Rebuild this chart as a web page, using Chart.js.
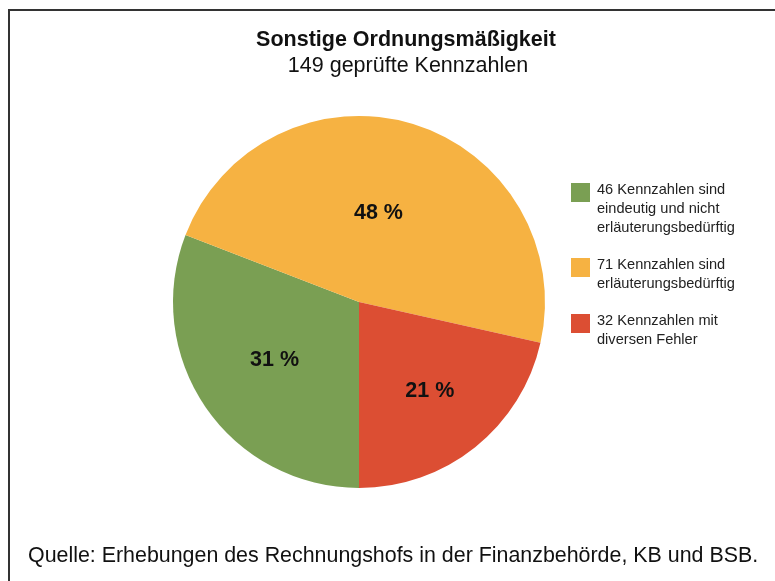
<!DOCTYPE html>
<html>
<head>
<meta charset="utf-8">
<script src="https://cdn.jsdelivr.net/npm/chart.js@4"></script>
<style>
  html, body { margin: 0; padding: 0; background: #fff; }
  #wrap { position: relative; width: 775px; height: 581px; }
</style>
</head>
<body>
<div id="wrap"><canvas id="pieChart" width="775" height="581"></canvas></div>
<script>
// ---------- data ----------
const categories = [
  ["46 Kennzahlen sind", "eindeutig und nicht", "erläuterungsbedürftig"],
  ["71 Kennzahlen sind", "erläuterungsbedürftig"],
  ["32 Kennzahlen mit", "diversen Fehler"]
];
const counts = [46, 71, 32];
const colors = ["#7a9f53", "#f6b242", "#dc4e33"];
const labelDist = [0.55, 0.49, 0.61];

const titleText = "Sonstige Ordnungsmäßigkeit";
const subtitleText = "149 geprüfte Kennzahlen";
const sourceText = "Quelle: Erhebungen des Rechnungshofs in der Finanzbehörde, KB und BSB.";

const FONT = "'Liberation Sans', Arial, Helvetica, sans-serif";
const total = counts.reduce((a, b) => a + b, 0);

// frame, titles, legend and percent labels
const decorations = {
  id: "decorations",
  beforeDraw(chart) {
    const c = chart.ctx;
    c.save();
    c.fillStyle = "#fff";
    c.fillRect(0, 0, chart.width, chart.height);
    c.strokeStyle = "#333";
    c.lineWidth = 2;
    c.beginPath();
    c.moveTo(9, chart.height);
    c.lineTo(9, 10);
    c.lineTo(chart.width, 10);
    c.stroke();
    c.restore();
  },
  afterDraw(chart) {
    const c = chart.ctx;
    c.save();
    c.fillStyle = "#111";
    c.textAlign = "center";
    c.textBaseline = "middle";
    c.font = "bold 21.5px " + FONT;
    c.fillText(titleText, 406, 40);
    c.font = "21.5px " + FONT;
    c.fillText(subtitleText, 408, 66);

    // percent labels
    c.font = "bold 21.5px " + FONT;
    chart.getDatasetMeta(0).data.forEach((arc, i) => {
      const p = arc.getProps(["x", "y", "startAngle", "endAngle", "outerRadius"], true);
      const mid = (p.startAngle + p.endAngle) / 2 - (i === 1 ? 0.08 : 0);
      const r = p.outerRadius * labelDist[i];
      const pct = Math.round(counts[i] / total * 100);
      c.fillText(pct + " %", p.x + Math.cos(mid) * r, p.y + Math.sin(mid) * r);
    });

    // legend
    c.textAlign = "left";
    c.font = "14.6px " + FONT;
    let y = 183;
    categories.forEach((lines, i) => {
      c.fillStyle = colors[i];
      c.fillRect(571, y, 19, 19);
      c.fillStyle = "#222";
      lines.forEach((t, j) => c.fillText(t, 597, y + 7 + j * 19));
      y += lines.length * 19 + 18;
    });

    c.font = "21.4px " + FONT;
    c.fillStyle = "#111";
    c.fillText(sourceText, 28, 556);
    c.restore();
  }
};

new Chart(document.getElementById("pieChart"), {
  type: "pie",
  data: {
    labels: categories.map(l => l.join(" ")),
    datasets: [{
      data: counts,
      backgroundColor: colors,
      borderWidth: 0
    }]
  },
  options: {
    responsive: false,
    animation: false,
    rotation: 180,
    layout: { padding: { left: 173, right: 230, top: 116, bottom: 93 } },
    plugins: {
      legend: { display: false },
      tooltip: { enabled: false }
    }
  },
  plugins: [decorations]
});
</script>
</body>
</html>
